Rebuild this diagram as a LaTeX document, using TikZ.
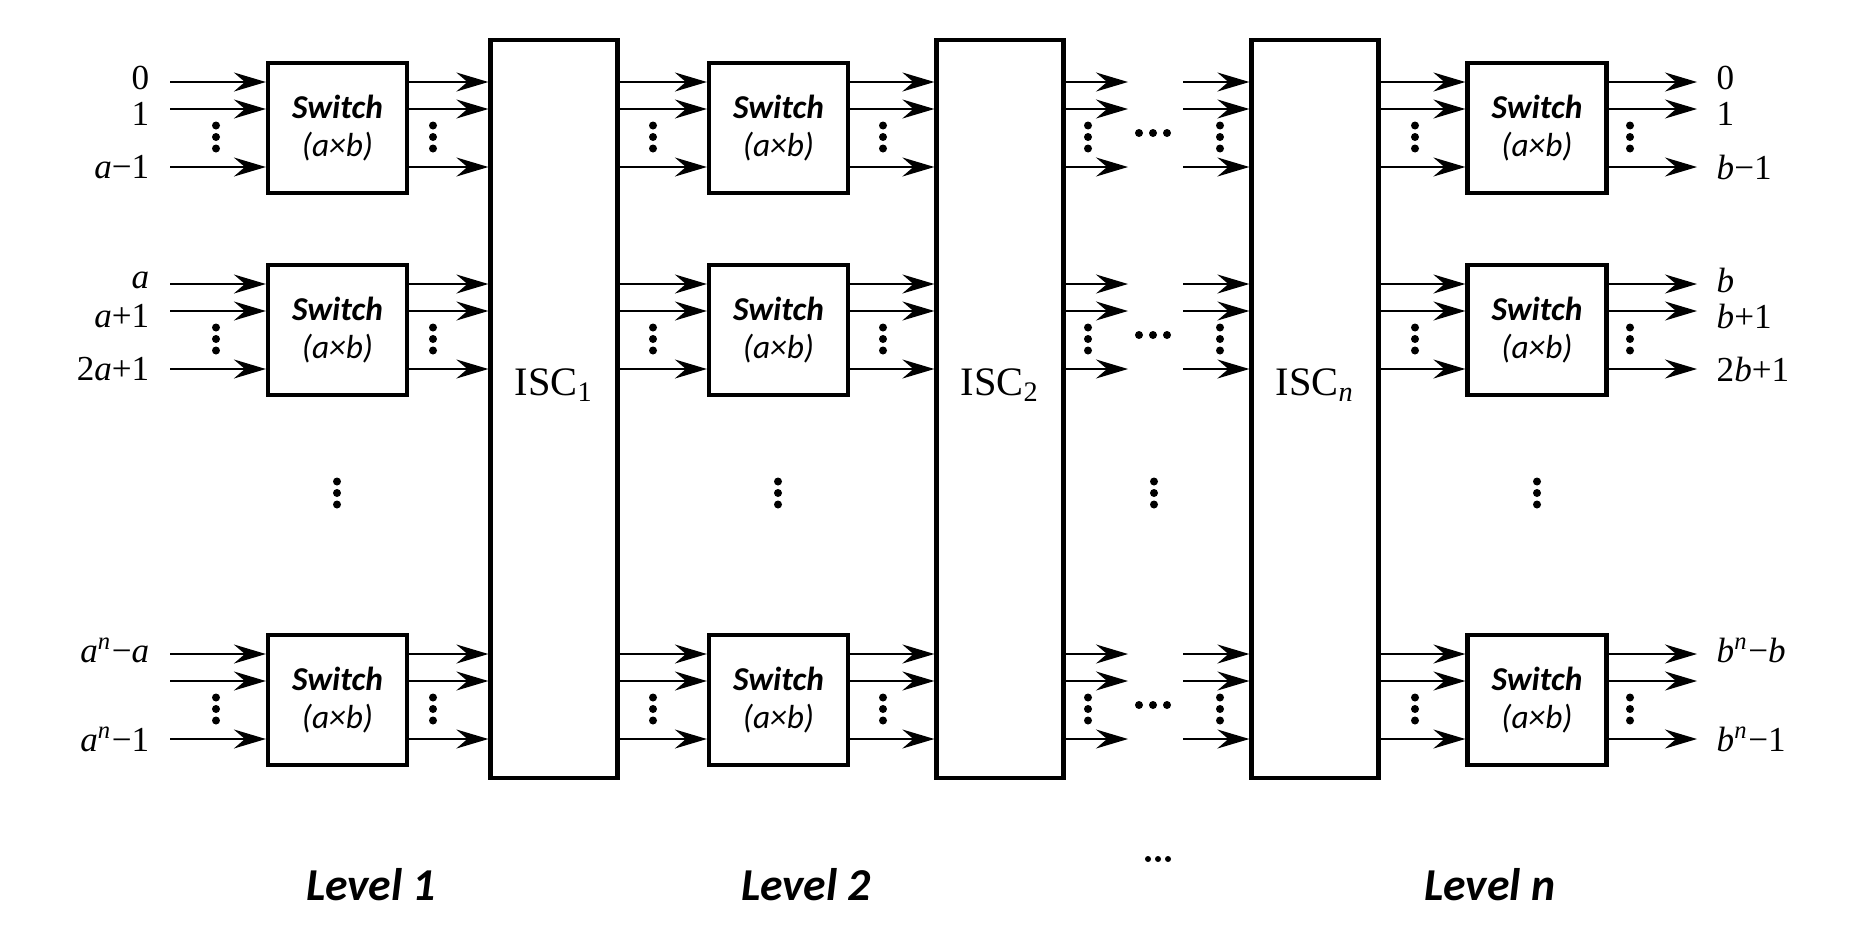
\documentclass[tikz,border=0pt]{standalone}
\usepackage{fontspec}
\setmainfont{Liberation Serif}
\newfontfamily\calfont{Carlito}
\usetikzlibrary{arrows.meta, positioning, calc}
\newcommand{\vr}[1]{\textit{#1}}
\newcommand{\swtext}{\textbf{\textit{Switch}}\\\textit{(a×b)}}

\begin{document}
\begin{tikzpicture}[x=1cm, y=-1cm,
    switchbox/.style={rectangle, draw, line width=1.2pt, minimum width=1.39cm, minimum height=1.30cm, align=center, font=\calfont\fontsize{9.5}{11}\selectfont},
    iscbox/.style={rectangle, draw, line width=1.2pt, minimum width=1.27cm, minimum height=7.38cm},
    isclabel/.style={inner sep=0pt, font=\fontsize{11.5}{13}\selectfont},
    arrow/.style={-{Stealth[length=3.2mm, width=1.9mm, inset=1.1mm]}, line width=0.6pt},
    inlabel/.style={anchor=east, inner sep=0pt, font=\fontsize{10}{12}\selectfont},
    outlabel/.style={anchor=west, inner sep=0pt, font=\fontsize{10}{12}\selectfont},
    up/.style={yshift=0.04cm},
    down/.style={yshift=-0.05cm},
    level/.style={font=\calfont\bfseries\itshape\fontsize{13}{15}\selectfont},
    vdts/.pic={\fill (0,-0.115) circle (0.04) (0,0) circle (0.04) (0,0.115) circle (0.04);},
    hdts/.pic={\fill (-0.14,0) circle (0.04) (0,0) circle (0.04) (0.14,0) circle (0.04);},
    lvdts/.pic={\fill (-0.1,0) circle (0.03) (0,0) circle (0.03) (0.1,0) circle (0.03);}
]
\useasboundingbox (0,0) rectangle (18.76,9.35);

% Interstage connection blocks
\node[iscbox] (isc1) at (5.54,4.09) {};
\node[iscbox] (isc2) at (10.0,4.09) {};
\node[iscbox] (iscn) at (13.15,4.09) {};
\node[isclabel] (isc1t) at ([yshift=0.24cm]isc1.center) {ISC\textsubscript{1}};
\node[isclabel] (isc2t) at ([yshift=0.24cm]isc2.center) {ISC\textsubscript{2}};
\node[isclabel] (iscnt) at ([yshift=0.24cm]iscn.center) {ISC\textsubscript{\vr{n}}};

% Switches, three rows per level
\foreach \rw/\yc in {1/1.28, 2/3.30, 3/7.00} {
  \node[switchbox] (sa\rw) at (3.375,\yc) {\swtext};
  \node[switchbox] (sb\rw) at (7.785,\yc) {\swtext};
  \node[switchbox] (sc\rw) at (15.37,\yc) {\swtext};
}

% Links
\foreach \rw/\yc in {1/1.28, 2/3.30, 3/7.00} {
  \foreach \kk/\d in {1/-0.46, 2/-0.19, 3/0.39} {
    \coordinate (in\rw\kk) at (1.70,{\yc+(\d)});
    \coordinate (ga\rw\kk) at (11.28,{\yc+(\d)});
    \coordinate (gb\rw\kk) at (11.83,{\yc+(\d)});
    \coordinate (out\rw\kk) at (16.97,{\yc+(\d)});
    \draw[arrow] (in\rw\kk) -- (sa\rw.west |- in\rw\kk);
    \draw[arrow] (sa\rw.east |- in\rw\kk) -- (isc1.west |- in\rw\kk);
    \draw[arrow] (isc1.east |- in\rw\kk) -- (sb\rw.west |- in\rw\kk);
    \draw[arrow] (sb\rw.east |- in\rw\kk) -- (isc2.west |- in\rw\kk);
    \draw[arrow] (isc2.east |- in\rw\kk) -- (ga\rw\kk);
    \draw[arrow] (gb\rw\kk) -- (iscn.west |- in\rw\kk);
    \draw[arrow] (iscn.east |- in\rw\kk) -- (sc\rw.west |- in\rw\kk);
    \draw[arrow] (sc\rw.east |- in\rw\kk) -- (out\rw\kk);
  }
  \foreach \x in {2.16, 4.33, 6.53, 8.83, 10.88, 12.20, 14.15, 16.30}
    \pic at (\x,{\yc+0.09}) {vdts};
  \pic at (11.53,{\yc+0.05}) {hdts};
}

% Dots between rows
\foreach \x in {3.37, 7.78, 11.54, 15.37}
  \pic at (\x,4.93) {vdts};

% Input labels
\node[inlabel, up, left=0.2cm of in11] (i11) {0};
\node[inlabel, down, left=0.2cm of in12] (i12) {1};
\node[inlabel, left=0.2cm of in13] (i13) {\vr{a}−1};
\node[inlabel, up, left=0.2cm of in21] (i21) {\vr{a}};
\node[inlabel, down, left=0.2cm of in22] (i22) {\vr{a}+1};
\node[inlabel, left=0.2cm of in23] (i23) {2\vr{a}+1};
\node[inlabel, up, left=0.2cm of in31] (i31) {\vr{a}\textsuperscript{\vr{n}}−\vr{a}};
\node[inlabel, left=0.2cm of in33] (i33) {\vr{a}\textsuperscript{\vr{n}}−1};

% Output labels
\node[outlabel, up, right=0.19cm of out11] (o11) {0};
\node[outlabel, down, right=0.19cm of out12] (o12) {1};
\node[outlabel, right=0.19cm of out13] (o13) {\vr{b}−1};
\node[outlabel, up, right=0.19cm of out21] (o21) {\vr{b}};
\node[outlabel, down, right=0.19cm of out22] (o22) {\vr{b}+1};
\node[outlabel, right=0.19cm of out23] (o23) {2\vr{b}+1};
\node[outlabel, up, right=0.19cm of out31] (o31) {\vr{b}\textsuperscript{\vr{n}}−\vr{b}};
\node[outlabel, right=0.19cm of out33] (o33) {\vr{b}\textsuperscript{\vr{n}}−1};

% Levels
\node[level] (lv1) at (3.71,8.85) {Level 1};
\node[level] (lv2) at (8.06,8.85) {Level 2};
\pic at (11.58,8.59) {lvdts};
\node[level] (lvn) at (14.9,8.85) {Level n};

\end{tikzpicture}
\end{document}
